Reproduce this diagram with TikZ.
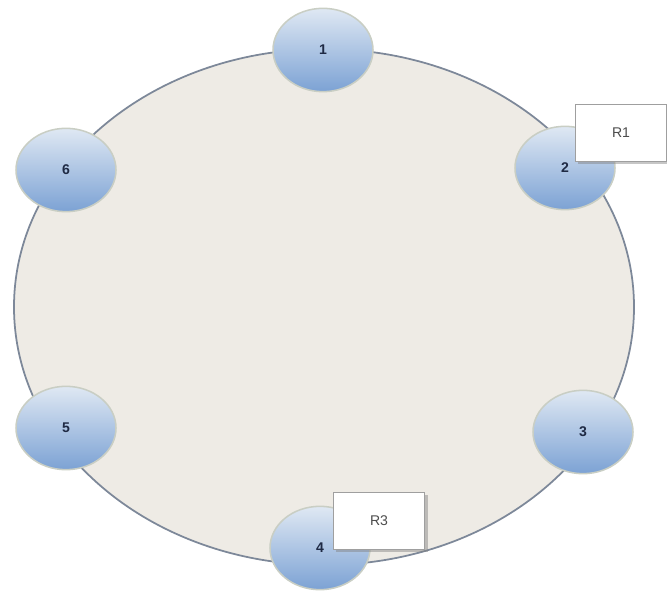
\documentclass[tikz,border=0pt]{standalone}
\usepackage{fontspec}
\setmainfont{Liberation Sans}
\usetikzlibrary{shapes.geometric,shadows}
\definecolor{ringfill}{HTML}{EEEBE5}
\definecolor{ringline}{HTML}{7D8899}
\definecolor{nodetop}{HTML}{DFE8F3}
\definecolor{nodebot}{HTML}{7CA2D4}
\definecolor{nodeedge}{HTML}{C9CEC4}
\definecolor{numtext}{HTML}{1F2A44}
\tikzset{
  px/.style={x=0.03cm,y=-0.03cm},
  ring/.style={draw=ringline,line width=1.5pt,fill=ringfill},
  station/.style={ellipse,draw=nodeedge,line width=1.3pt,
    top color=nodetop,bottom color=nodebot,
    minimum width=3.0cm,minimum height=2.5cm,inner sep=0pt,
    font=\fontsize{12}{14}\selectfont\bfseries,text=numtext},
  tag/.style={draw=gray!75,line width=0.9pt,fill=white,
    minimum width=2.75cm,minimum height=1.7cm,inner sep=0pt,
    font=\fontsize{12}{14}\selectfont,text=black!70,
    drop shadow={opacity=0.45,shadow xshift=0.08cm,shadow yshift=-0.08cm}}
}
\begin{document}
\begin{tikzpicture}[px]
\useasboundingbox (0,0) rectangle (667,596);
% the ring
\draw[ring] (324,307) ellipse [x radius=310, y radius=258];
% stations on the ring
\node[station] (n1) at (323,50) {1};
\node[station] (n2) at (565,168) {2};
\node[station] (n3) at (583,432) {3};
\node[station] (n4) at (320,548) {4};
\node[station] (n5) at (66,428) {5};
\node[station] (n6) at (66,170) {6};
% labels attached to stations
\node[tag] (r1) at (621,133) {R1};
\node[tag] (r3) at (379,521) {R3};
\end{tikzpicture}
\end{document}
